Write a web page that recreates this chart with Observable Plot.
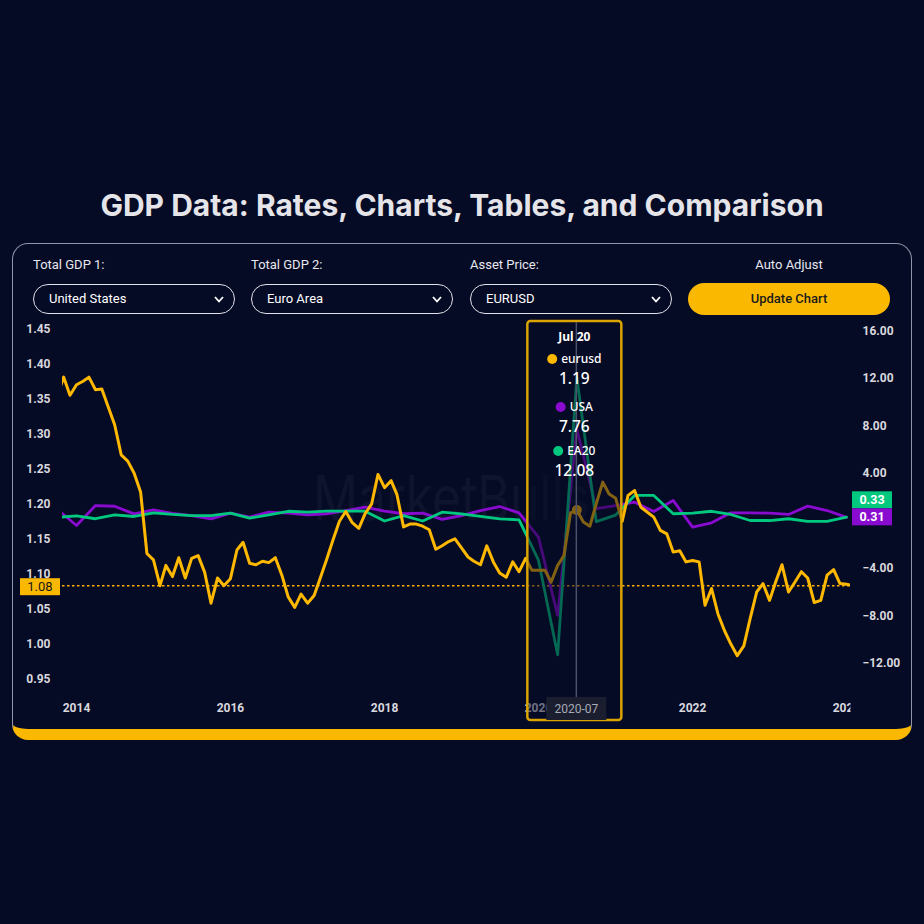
<!DOCTYPE html>
<html>
<head>
<meta charset="utf-8">
<script src="https://cdn.jsdelivr.net/npm/d3@7"></script>
<script src="https://cdn.jsdelivr.net/npm/@observablehq/plot@0.6"></script>
<style>
  html, body { margin:0; padding:0; background:#050a25; width:924px; height:924px; overflow:hidden; font-family: Roboto, "Noto Sans", sans-serif; }
  #title { position:absolute; left:0; top:187px; width:924px; text-align:center; font: 700 30px Inter, Roboto, sans-serif; line-height:36px; color:#e4e4e9; }
  #panel { position:absolute; left:12px; top:243px; width:900px; height:497px; box-sizing:border-box; border:1px solid rgba(205,208,222,0.7); border-bottom:11px solid #fbb800; border-radius:16px; }
  .lbl { position:absolute; top:257px; font-size:13px; line-height:16px; color:#e8e8ee; }
  .sel { position:absolute; top:284px; width:202px; height:30px; box-sizing:border-box; border:1px solid #e2e2ea; border-radius:15px; color:#ffffff; font-size:13px; line-height:28px; padding-left:15px; }
  .sel svg { position:absolute; right:10px; top:11px; }
  .btn { position:absolute; left:688px; top:283px; width:202px; height:32px; border-radius:16px; background:#fbb800; color:#1b1b1b; font-size:13px; font-weight:500; text-align:center; line-height:32px; }
  #chart { position:absolute; left:12px; top:318px; }
  #chart svg { overflow:visible; }
</style>
</head>
<body>
<div id="title">GDP Data: Rates, Charts, Tables, and Comparison</div>
<div id="panel"></div>
<div class="lbl" style="left:33px">Total GDP 1:</div>
<div class="lbl" style="left:251px">Total GDP 2:</div>
<div class="lbl" style="left:470px">Asset Price:</div>
<div class="lbl" style="left:688px;width:202px;text-align:center">Auto Adjust</div>
<div class="sel" style="left:33px">United States<svg width="10" height="7"><polyline points="1,1 5,5.5 9,1" fill="none" stroke="#fff" stroke-width="1.8"/></svg></div>
<div class="sel" style="left:251px">Euro Area<svg width="10" height="7"><polyline points="1,1 5,5.5 9,1" fill="none" stroke="#fff" stroke-width="1.8"/></svg></div>
<div class="sel" style="left:470px">EURUSD<svg width="10" height="7"><polyline points="1,1 5,5.5 9,1" fill="none" stroke="#fff" stroke-width="1.8"/></svg></div>
<div class="btn">Update Chart</div>
<div id="chart"></div>
<script>
// ---------- DATA ----------
// EURUSD monthly (first month: 2013-10)
const fx2013 = [1.354, 1.381, 1.355];
const fx2014 = [1.370, 1.375, 1.381, 1.363, 1.364, 1.338, 1.313, 1.270, 1.261, 1.244, 1.217, 1.129];
const fx2015 = [1.120, 1.083, 1.112, 1.096, 1.123, 1.094, 1.122, 1.126, 1.102, 1.058, 1.094, 1.083];
const fx2016 = [1.093, 1.134, 1.145, 1.115, 1.113, 1.118, 1.116, 1.123, 1.098, 1.067, 1.052, 1.071];
const fx2017 = [1.058, 1.069, 1.093, 1.120, 1.148, 1.175, 1.189, 1.173, 1.165, 1.186, 1.200, 1.242];
const fx2018 = [1.223, 1.233, 1.213, 1.167, 1.171, 1.171, 1.168, 1.163, 1.135, 1.140, 1.146, 1.150];
const fx2019 = [1.137, 1.124, 1.118, 1.113, 1.140, 1.117, 1.101, 1.095, 1.117, 1.103, 1.122, 1.105];
const fx2020 = [1.105, 1.105, 1.088, 1.112, 1.126, 1.187, 1.191, 1.174, 1.168, 1.200, 1.231, 1.214];
const fx2021 = [1.208, 1.175, 1.212, 1.219, 1.195, 1.188, 1.181, 1.162, 1.157, 1.131, 1.133, 1.117];
const fx2022 = [1.119, 1.117, 1.055, 1.079, 1.043, 1.019, 1.000, 0.983, 0.997, 1.036, 1.074, 1.086];
const fx2023 = [1.062, 1.090, 1.113, 1.074, 1.088, 1.103, 1.094, 1.059, 1.062, 1.098, 1.106, 1.086];
const fx2024 = [1.085, 1.083];

// GDP QoQ growth (%), quarterly, first quarter: 2013 Q4
const usaGdp = [1.00,
  -0.38, 1.30, 1.24, 0.60,
  0.94, 0.65, 0.46, 0.18,
  0.66, 0.32, 0.74, 0.66,
  0.52, 0.61, 0.88, 1.16,
  0.83, 0.61, 0.66, 0.13,
  0.46, 0.88, 1.22, 0.69,
  -1.36, -7.95, 7.76, 1.05,
  1.30, 1.58, 0.80, 1.73,
  -0.52, -0.15, 0.69, 0.69,
  0.66, 0.55, 1.25, 0.88,
  0.31];
const ea20Gdp = [0.30,
  0.44, 0.19, 0.52, 0.38,
  0.69, 0.55, 0.46, 0.46,
  0.66, 0.24, 0.52, 0.82,
  0.74, 0.83, 0.83, 0.83,
  0.00, 0.46, 0.00, 0.74,
  0.60, 0.38, 0.18, 0.10,
  -3.30, -11.26, 12.08, -0.05,
  0.50, 2.15, 2.15, 0.61,
  0.66, 0.82, 0.55, 0.04,
  0.04, 0.19, -0.04, -0.04,
  0.33];

const leftTicks = [0.95, 1.00, 1.05, 1.10, 1.15, 1.20, 1.25, 1.30, 1.35, 1.40, 1.45];
const rightTicks = [-12, -8, -4, 4, 8, 12, 16];
const yearTicks = [2014, 2016, 2018, 2020, 2022, 2024];
const seriesNames = ["eurusd", "USA", "EA20"];
const seriesColors = ["#ffb800", "#8a0bd0", "#00c97f"];
const selectedMonth = "2020-07";

// ---------- BUILD ----------
const fxAll = [].concat(fx2013, fx2014, fx2015, fx2016, fx2017, fx2018, fx2019, fx2020, fx2021, fx2022, fx2023, fx2024);
const fxStart = new Date(Date.UTC(2013, 9, 1));
const gdpStart = new Date(Date.UTC(2013, 9, 1));
const eurusd = fxAll.map((v, i) => ({date: d3.utcMonth.offset(fxStart, i), value: v}));
const usa = usaGdp.map((v, i) => ({date: d3.utcMonth.offset(gdpStart, 3 * i), value: v}));
const ea20 = ea20Gdp.map((v, i) => ({date: d3.utcMonth.offset(gdpStart, 3 * i), value: v}));

// secondary (right) axis mapped onto the primary y scale
const rightBase = 1.17543, rightK = 0.016971;
const toLeft = v => rightBase + rightK * v;
const fromLeft = y => (y - rightBase) / rightK;
const f2 = d3.format(".2f");

const lastFx = eurusd[eurusd.length - 1].value;
const selDate = d3.utcParse("%Y-%m")(selectedMonth);
const selFx = eurusd.find(d => +d.date === +selDate);
const selUsa = usa.find(d => +d.date === +selDate);
const selEa = ea20.find(d => +d.date === +selDate);

const plot = Plot.plot({
  width: 900,
  height: 406,
  marginLeft: 50,
  marginRight: 62,
  marginTop: 3,
  marginBottom: 34,
  style: {background: "transparent", color: "#d8d8de", fontSize: "12px", fontFamily: "Roboto, sans-serif", fontWeight: "bold"},
  x: {type: "utc", domain: [new Date(Date.UTC(2014, 0, 1)), new Date(Date.UTC(2024, 0, 1))], range: [64, 834]},
  y: {domain: [0.95, 1.45], range: [360.3, 10.3]},
  marks: [
    Plot.axisX({ticks: yearTicks.map(y => new Date(Date.UTC(y, 0, 1))), tickSize: 0, tickPadding: 13, tickFormat: d3.utcFormat("%Y"), label: null}),
    Plot.axisY({anchor: "left", ticks: leftTicks, tickSize: 0, tickPadding: 12, tickFormat: f2, label: null}),
    Plot.axisY({anchor: "right", ticks: rightTicks.map(toLeft), tickSize: 0, tickPadding: 12, tickFormat: d => f2(Math.round(fromLeft(d) * 100) / 100), label: null}),
    Plot.ruleY([lastFx], {stroke: "#ffae00", strokeWidth: 1.4, strokeDasharray: "2.5,2.5", clip: true}),
    Plot.line(usa, {x: "date", y: d => toLeft(d.value), stroke: seriesColors[1], strokeWidth: 2.8, clip: true}),
    Plot.line(ea20, {x: "date", y: d => toLeft(d.value), stroke: seriesColors[2], strokeWidth: 2.8, clip: true}),
    Plot.line(eurusd, {x: "date", y: "value", stroke: seriesColors[0], strokeWidth: 3, clip: true}),
    Plot.dot([selFx], {x: "date", y: "value", fill: seriesColors[0], r: 5})
  ]
});
document.getElementById("chart").appendChild(plot);

const svg = d3.select(plot);
const X = plot.scale("x"), Y = plot.scale("y");

// clip x tick labels at frame right
const defs = svg.append("defs");
defs.append("clipPath").attr("id", "xlabclip").append("rect").attr("x", 0).attr("y", 0).attr("width", 900 - 62).attr("height", 406);
svg.selectAll('g[aria-label="x-axis tick label"]').attr("clip-path", "url(#xlabclip)");

// watermark behind the lines
svg.insert("text", ":first-child")
  .attr("x", 439.5).attr("y", 202)
  .attr("text-anchor", "middle")
  .attr("textLength", 277).attr("lengthAdjust", "spacingAndGlyphs")
  .style("font", "400 62px Inter, Roboto, sans-serif")
  .attr("fill", "rgba(255,255,255,0.045)")
  .text("MarketBulls");

// current price label (left)
const yCur = Y.apply(lastFx);
svg.append("rect").attr("x", 8).attr("y", yCur - 7).attr("width", 40).attr("height", 17).attr("fill", "#fbb800");
svg.append("text").attr("x", 28).attr("y", yCur + 1.5).attr("dy", "0.35em").attr("text-anchor", "middle")
  .style("font", "400 13px Roboto, sans-serif").attr("fill", "#1a1a1a").text(f2(lastFx));

// right end-value labels
const lastUsa = usa[usa.length - 1].value, lastEa = ea20[ea20.length - 1].value;
let yU = Y.apply(toLeft(lastUsa)), yE = Y.apply(toLeft(lastEa));
if (Math.abs(yU - yE) < 17) { if (lastEa >= lastUsa) yE = yU - 17; else yU = yE - 17; }
[[lastEa, yE, seriesColors[2]], [lastUsa, yU, seriesColors[1]]].forEach(([v, y, c]) => {
  svg.append("rect").attr("x", 840).attr("y", y - 8.5).attr("width", 40).attr("height", 17).attr("fill", c);
  svg.append("text").attr("x", 860).attr("y", y).attr("dy", "0.35em").attr("text-anchor", "middle")
    .style("font", "700 12.5px Roboto, sans-serif").attr("fill", "#ffffff").text(f2(v));
});

// tooltip overlay
const x0 = X.apply(selDate);
svg.append("rect").attr("x", x0 - 49).attr("y", 3).attr("width", 94).attr("height", 399).attr("rx", 3)
  .attr("fill", "rgba(5,10,37,0.5)").attr("stroke", "#d9a300").attr("stroke-width", 2.5);
svg.append("line").attr("x1", x0).attr("x2", x0).attr("y1", 4).attr("y2", 379).attr("stroke", "#4c5169").attr("stroke-width", 1.5);
svg.append("rect").attr("x", x0 - 30).attr("y", 379).attr("width", 60).attr("height", 23).attr("fill", "#1a1e2e");
svg.append("text").attr("x", x0).attr("y", 391).attr("dy", "0.35em").attr("text-anchor", "middle")
  .style("font", "400 12px Roboto, sans-serif").attr("fill", "#a9abb6").text(d3.utcFormat("%Y-%m")(selDate));

const cx = x0 - 2;
svg.append("text").attr("x", cx).attr("y", 19).attr("dy", "0.35em").attr("text-anchor", "middle")
  .style("font", "700 12px 'Noto Sans', sans-serif").attr("fill", "#ffffff").text(d3.utcFormat("%b %y")(selDate));
const selVals = [selFx.value, selUsa.value, selEa.value];
const nameY = [41, 89, 133];
seriesNames.forEach((name, i) => {
  const t = svg.append("text").attr("y", nameY[i]).attr("dy", "0.35em").attr("text-anchor", "start")
    .style("font", "500 12px 'Noto Sans', sans-serif").attr("fill", "#ffffff").text(name);
  const w = t.node().getComputedTextLength();
  const total = 10 + 4 + w;
  const left = cx - total / 2;
  svg.append("circle").attr("cx", left + 5).attr("cy", nameY[i]).attr("r", 5).attr("fill", seriesColors[i]);
  t.attr("x", left + 14);
  svg.append("text").attr("x", cx).attr("y", nameY[i] + 20).attr("dy", "0.35em").attr("text-anchor", "middle")
    .style("font", "500 15.5px 'Noto Sans', sans-serif").attr("fill", "#ffffff").text(f2(selVals[i]));
});
</script>
</body>
</html>
